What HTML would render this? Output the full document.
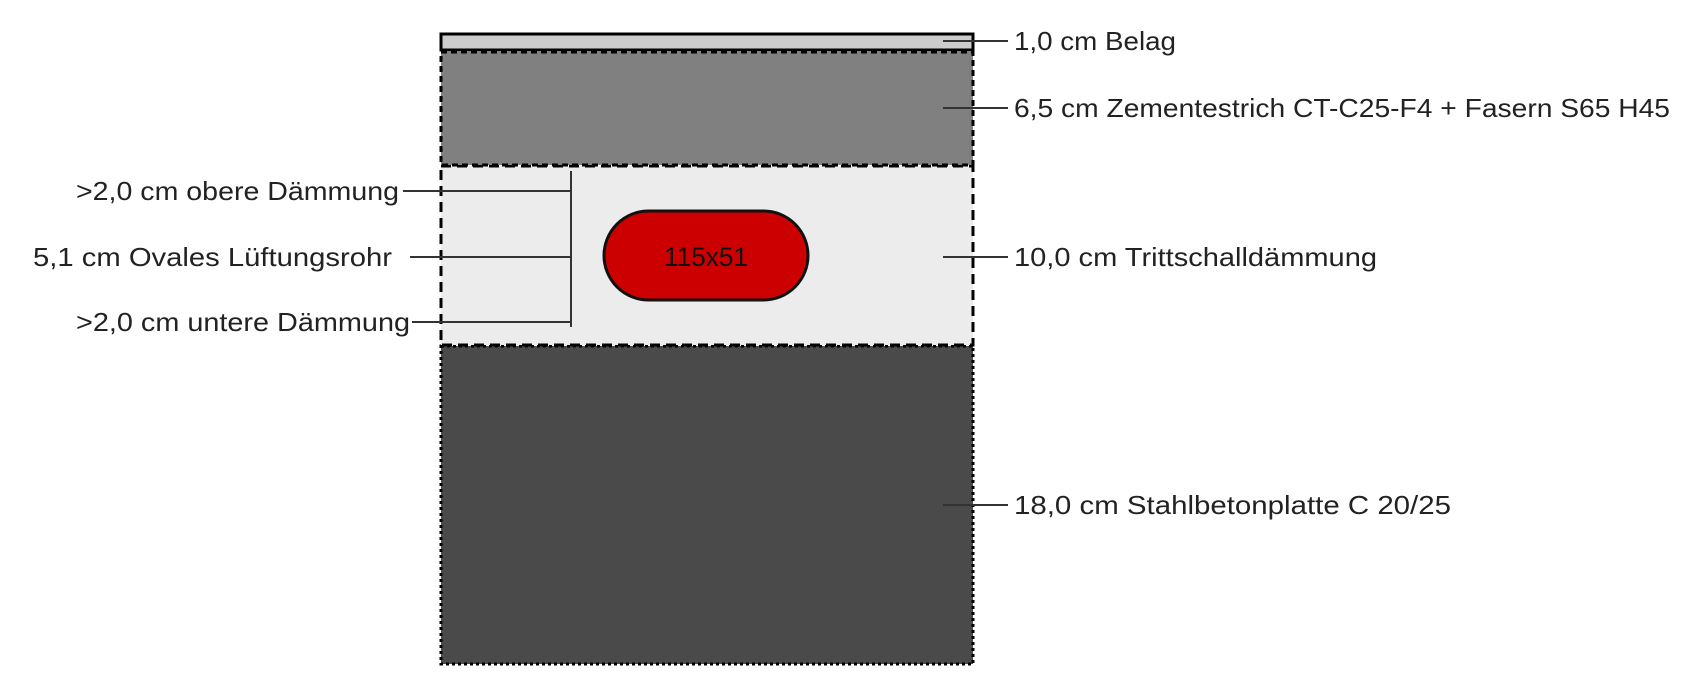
<!DOCTYPE html>
<html><head><meta charset="utf-8"><style>html,body{margin:0;padding:0;background:#fff}svg{display:block}</style></head>
<body>
<svg width="1700" height="688" viewBox="0 0 1700 688" xmlns="http://www.w3.org/2000/svg" font-family="Liberation Sans, sans-serif" font-size="26" fill="#222">
<rect x="0" y="0" width="1700" height="688" fill="#fff"/>
<rect x="441" y="346" width="532" height="318" fill="#4a4a4a" stroke="#000" stroke-width="3" stroke-dasharray="3 3"/>
<rect x="441" y="166" width="532" height="179" fill="#ececec" stroke="#000" stroke-width="3" stroke-dasharray="10 6"/>
<rect x="441" y="52" width="532" height="113" fill="#808080" stroke="#000" stroke-width="3" stroke-dasharray="6 4"/>
<rect x="441" y="34" width="532" height="16" fill="#cccccc" stroke="#000" stroke-width="3"/>
<rect x="604" y="211" width="204" height="89" rx="44.5" fill="#cc0000" stroke="#111" stroke-width="3"/>
<text x="706" y="266" text-anchor="middle" font-size="27" fill="#111" textLength="84" lengthAdjust="spacingAndGlyphs">115x51</text>
<g stroke="#333" stroke-width="2" fill="none">
<line x1="571" y1="171" x2="571" y2="327"/>
<line x1="403" y1="191" x2="571" y2="191"/>
<line x1="410" y1="257" x2="571" y2="257"/>
<line x1="412" y1="322" x2="571" y2="322"/>
<line x1="943" y1="41" x2="1008" y2="41"/>
<line x1="943" y1="108" x2="1008" y2="108"/>
<line x1="943" y1="257" x2="1008" y2="257"/>
<line x1="943" y1="505" x2="1008" y2="505"/>
</g>
<text x="76" y="200" textLength="323" lengthAdjust="spacingAndGlyphs">&gt;2,0 cm obere Dämmung</text>
<text x="33" y="266" textLength="359" lengthAdjust="spacingAndGlyphs">5,1 cm Ovales Lüftungsrohr</text>
<text x="76" y="331" textLength="334" lengthAdjust="spacingAndGlyphs">&gt;2,0 cm untere Dämmung</text>
<text x="1014" y="50" textLength="162" lengthAdjust="spacingAndGlyphs">1,0 cm Belag</text>
<text x="1014" y="117" textLength="656" lengthAdjust="spacingAndGlyphs">6,5 cm Zementestrich CT-C25-F4 + Fasern S65 H45</text>
<text x="1014" y="266" textLength="363" lengthAdjust="spacingAndGlyphs">10,0 cm Trittschalldämmung</text>
<text x="1014" y="514" textLength="437" lengthAdjust="spacingAndGlyphs">18,0 cm Stahlbetonplatte C 20/25</text>
</svg>
</body></html>
